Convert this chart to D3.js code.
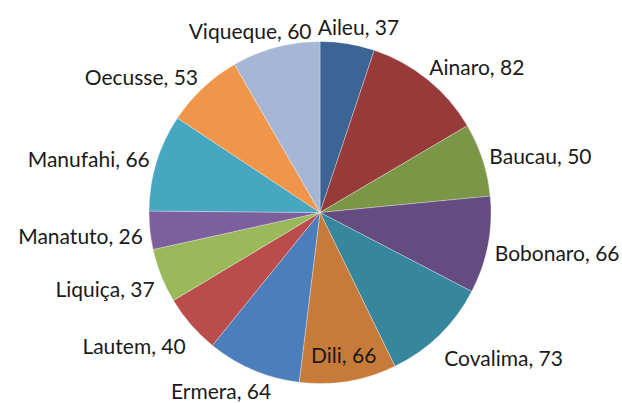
<!DOCTYPE html>
<html>
<head>
<meta charset="utf-8">
<script src="https://cdn.jsdelivr.net/npm/d3@7"></script>
<style>
  body { margin: 0; background: #fff; }
  .lbl { font-family: Lato, "Open Sans", sans-serif; font-size: 21px; fill: #1a1a1a; }
</style>
</head>
<body>
<div id="chart"></div>
<script>
var svgWidth = 622;
var svgHeight = 403;

// District values (clockwise from 12 o'clock)
var districts = ["Aileu", "Ainaro", "Baucau", "Bobonaro", "Covalima", "Dili", "Ermera",
    "Lautem", "Liquiça", "Manatuto", "Manufahi", "Oecusse", "Viqueque"];
var values = [37, 82, 50, 66, 73, 66, 64, 40, 37, 26, 66, 53, 60];
var colors = ["#3c6595", "#963b3a", "#7a9646", "#644c80", "#36879d", "#c77b3b", "#4b7ebb",
    "#ba4c4b", "#99b95a", "#7d5f9d", "#47a6c0", "#f0964a", "#a6b6d5"];
var insideLabels = ["Dili"];

var cx = 320, cy = 212.5, radius = 171;

var svg = d3.select("#chart")
    .append("svg")
    .attr("width", svgWidth)
    .attr("height", svgHeight);

var data = districts.map(function (d, i) {
    return { name: d, value: values[i], color: colors[i] };
});

var pie = d3.pie()
    .sort(null)
    .value(d => d.value);

var arc = d3.arc()
    .innerRadius(0)
    .outerRadius(radius);

var g = svg.append("g")
    .attr("transform", `translate(${cx}, ${cy})`);

var arcs = pie(data);

g.selectAll("path")
    .data(arcs)
    .enter()
    .append("path")
    .attr("d", arc)
    .attr("fill", d => d.data.color)
    .attr("stroke", "#ffffff")
    .attr("stroke-opacity", 0.5)
    .attr("stroke-width", 0.6);

// Labels: place the text box just outside the slice's mid-angle
var labels = g.selectAll("text.lbl")
    .data(arcs)
    .enter()
    .append("text")
    .attr("class", "lbl")
    .attr("text-anchor", "middle")
    .attr("dominant-baseline", "central")
    .text(d => d.data.name + ", " + d.data.value);

labels.each(function (d) {
    var t = d3.select(this);
    var a = (d.startAngle + d.endAngle) / 2;
    var s = Math.sin(a), c = Math.cos(a);
    var x, y;
    if (insideLabels.indexOf(d.data.name) >= 0) {
        x = s * radius * 0.84;
        y = -c * radius * 0.84;
    } else {
        var w = this.getComputedTextLength();
        var h = 24;
        var pr = radius + 7;
        var fx = Math.max(-1, Math.min(1, s * 1.5));
        x = s * pr + fx * w / 2;
        y = -c * pr - c * h / 2 * (c < 0 ? 1.8 : 1) + 2;
        // keep the label inside the chart area
        y = Math.min(y, svgHeight - cy - 13);
    }
    t.attr("x", x).attr("y", y);
});
</script>
</body>
</html>
